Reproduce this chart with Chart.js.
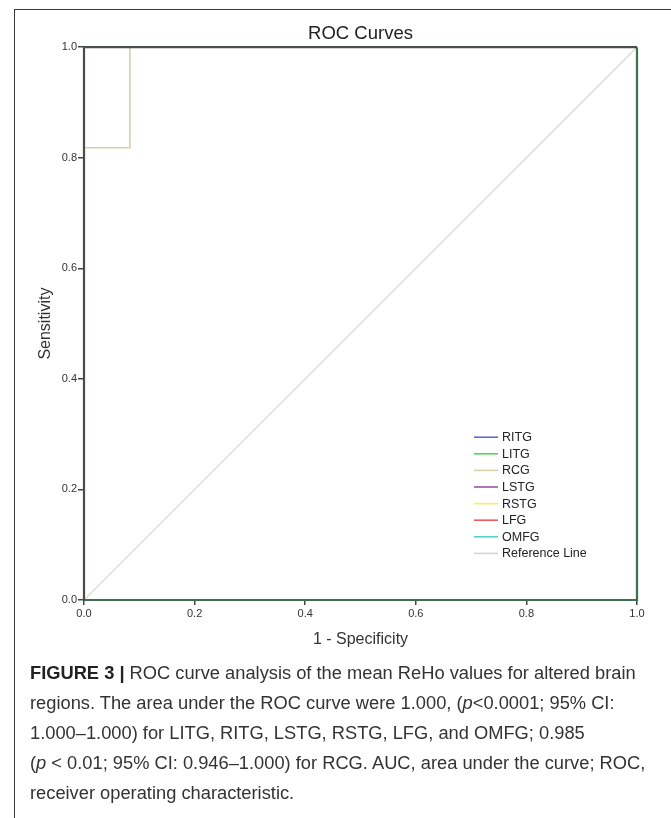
<!DOCTYPE html>
<html>
<head>
<meta charset="utf-8">
<script src="https://cdn.jsdelivr.net/npm/chart.js@4/dist/chart.umd.min.js"></script>
<style>
  body { margin: 0; width: 671px; height: 818px; overflow: hidden; background: #fff; position: relative; }
  #frame { position: absolute; left: 14px; top: 9px; width: 700px; height: 900px; border: 1.5px solid #3a3a3a; box-sizing: border-box; }
  #graficoRoc { position: absolute; left: 0; top: 0; }
  #pie { position: absolute; left: 30px; top: 658px; font-family: 'Liberation Sans', Arial, sans-serif; font-size: 18.3px; line-height: 30px; color: #333; white-space: nowrap; }
  #pie b { color: #222; }
</style>
</head>
<body>
<div id="frame"></div>
<canvas id="graficoRoc" width="671" height="660"></canvas>
<div id="pie">
  <b>FIGURE 3 |</b> ROC curve analysis of the mean ReHo values for altered brain<br>
  regions. The area under the ROC curve were 1.000, (<i>p</i>&lt;0.0001; 95% CI:<br>
  1.000–1.000) for LITG, RITG, LSTG, RSTG, LFG, and OMFG; 0.985<br>
  (<i>p</i> &lt; 0.01; 95% CI: 0.946–1.000) for RCG. AUC, area under the curve; ROC,<br>
  receiver operating characteristic.
</div>
<script>
// datos de las curvas ROC
const nombres = ['RITG', 'LITG', 'RCG', 'LSTG', 'RSTG', 'LFG', 'OMFG', 'Reference Line'];
const colores = ['#5b6fd2', '#55d35a', '#d9d0a6', '#9a52a6', '#f2f25c', '#ef5a5a', '#5ccfd0', '#d4d4d4'];

// curvas con AUC = 1.000
const fprPerfecta = [0, 0, 1];
const tprPerfecta = [0, 1, 1];

// RCG, AUC = 0.985
const fprRCG = [0, 0, 0.083, 0.083, 1];
const tprRCG = [0, 0.818, 0.818, 1, 1];

// linea de referencia
const fprRef = [0, 1];
const tprRef = [0, 1];

const ejeTicks = [0, 0.2, 0.4, 0.6, 0.8, 1.0];

function puntos(xs, ys) {
  return xs.map((x, i) => ({ x: x, y: ys[i] }));
}

const datasets = nombres.map((nombre, i) => {
  let datos;
  if (nombre === 'RCG') datos = puntos(fprRCG, tprRCG);
  else if (nombre === 'Reference Line') datos = puntos(fprRef, tprRef);
  else datos = puntos(fprPerfecta, tprPerfecta);
  return {
    label: nombre,
    data: datos,
    borderColor: colores[i],
    borderWidth: nombre === 'Reference Line' ? 1.2 : 1.6,
    pointRadius: 0,
    fill: false,
    tension: 0
  };
});

// orden de dibujo: referencia debajo
datasets[7].order = 10;

// marco del grafico y leyenda dentro del area
const marcoYLeyenda = {
  id: 'marcoYLeyenda',
  afterDatasetsDraw(chart) {
    const a = chart.chartArea;
    const ctx = chart.ctx;
    ctx.save();
    ctx.lineWidth = 2.2;
    ctx.strokeStyle = '#3f6e4f';
    ctx.beginPath(); ctx.moveTo(a.left, a.bottom); ctx.lineTo(a.right, a.bottom); ctx.lineTo(a.right, a.top); ctx.stroke();
    ctx.strokeStyle = '#4a504c';
    ctx.beginPath(); ctx.moveTo(a.left, a.top); ctx.lineTo(a.right, a.top); ctx.stroke();
    ctx.strokeStyle = '#514a42';
    ctx.beginPath(); ctx.moveTo(a.left, a.bottom); ctx.lineTo(a.left, a.top); ctx.stroke();

    // leyenda
    const x0 = a.left + 390;
    let y = a.top + 390;
    ctx.font = '12.5px "Liberation Sans", Arial, sans-serif';
    ctx.textBaseline = 'middle';
    chart.data.datasets.forEach(ds => {
      ctx.strokeStyle = ds.borderColor;
      ctx.lineWidth = 1.6;
      ctx.beginPath(); ctx.moveTo(x0, y); ctx.lineTo(x0 + 24, y); ctx.stroke();
      ctx.fillStyle = '#222';
      ctx.fillText(ds.label, x0 + 28, y + 0.5);
      y += 16.6;
    });
    ctx.restore();
  }
};

const fuente = { family: '"Liberation Sans", Arial, sans-serif', size: 11 };
const fuenteTitulo = { family: '"Liberation Sans", Arial, sans-serif', size: 16 };

const ctx = document.getElementById('graficoRoc').getContext('2d');
const chart = new Chart(ctx, {
  type: 'line',
  data: { datasets: datasets },
  options: {
    responsive: false,
    animation: false,
    layout: { padding: { left: 28, right: 34, top: 0, bottom: 0 } },
    plugins: {
      legend: { display: false },
      tooltip: { enabled: false },
      title: {
        display: true,
        fullSize: false,
        text: 'ROC Curves',
        color: '#222',
        font: { family: '"Liberation Sans", Arial, sans-serif', size: 18.5, weight: 'normal' },
        padding: { top: 23, bottom: 2 }
      }
    },
    scales: {
      x: {
        type: 'linear',
        min: 0,
        max: 1,
        afterFit: s => { s.height = 60; },
        afterBuildTicks: s => { s.ticks = ejeTicks.map(v => ({ value: v })); },
        ticks: { color: '#333', font: fuente, padding: 2, maxRotation: 0, callback: v => v.toFixed(1) },
        grid: { drawOnChartArea: false, tickLength: 5, color: '#444', lineWidth: 1.5 },
        border: { display: false },
        title: {
          display: true,
          text: '1 - Specificity',
          color: '#333',
          font: fuenteTitulo,
          padding: { top: 0, bottom: 10.5 }
        }
      },
      y: {
        type: 'linear',
        min: 0,
        max: 1,
        afterFit: s => { s.width = 56; },
        afterBuildTicks: s => { s.ticks = ejeTicks.map(v => ({ value: v })); },
        ticks: { color: '#333', font: fuente, padding: 1, callback: v => v.toFixed(1) },
        grid: { drawOnChartArea: false, tickLength: 6, color: '#444', lineWidth: 1.5 },
        border: { display: false },
        title: {
          display: true,
          text: 'Sensitivity',
          color: '#333',
          font: fuenteTitulo,
          padding: { top: 7.5, bottom: 0 }
        }
      }
    }
  },
  plugins: [marcoYLeyenda]
});
</script>
</body>
</html>
